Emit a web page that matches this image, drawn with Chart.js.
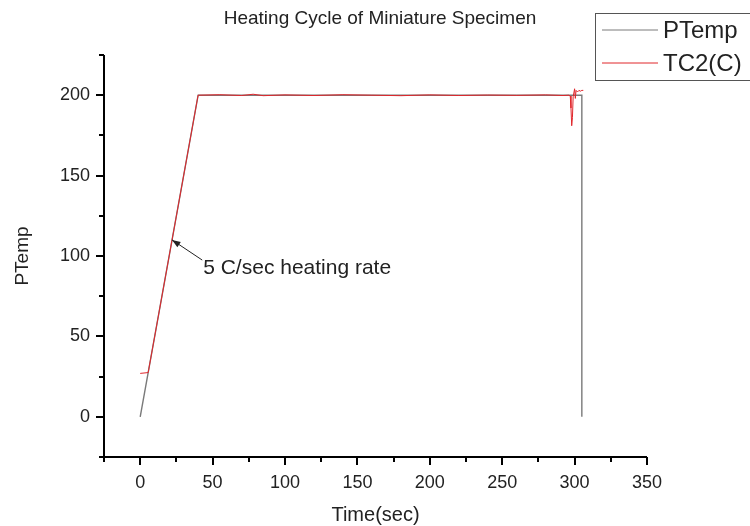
<!DOCTYPE html>
<html>
<head>
<meta charset="utf-8">
<script src="https://cdn.jsdelivr.net/npm/chart.js@4"></script>
<style>
  html, body { margin: 0; padding: 0; background: #fff; }
  #wrap { width: 750px; height: 526px; }
</style>
</head>
<body>
<div id="wrap"><canvas id="chart" width="750" height="526"></canvas></div>
<script>
// PTemp: programmed temperature set-point
const ptempTime = [0, 40, 305, 305];
const ptempVal  = [0, 200, 200, 0];

// TC2(C): measured thermocouple reading
const tc2Time = [0, 5.5, 20, 40, 55, 70, 78, 85, 100, 120, 140, 160, 180, 200, 220, 240, 260, 280, 292, 296, 297, 297.5, 298, 298.5, 299, 300, 300.5, 301, 302, 303, 304, 305, 306];
const tc2Val  = [27, 27.5, 100, 200, 200.3, 199.8, 200.6, 199.7, 200.2, 199.8, 200.3, 200, 199.7, 200.2, 199.8, 200.1, 199.9, 200.2, 199.8, 200, 199.5, 192, 181, 186, 199, 204, 198, 203, 202, 203, 202.5, 203, 203];

const xTicks = [-25, 0, 25, 50, 75, 100, 125, 150, 175, 200, 225, 250, 275, 300, 325, 350];
const yTicks = [-25, 0, 25, 50, 75, 100, 125, 150, 175, 200, 225];

const seriesNames = ['PTemp', 'TC2(C)'];
const seriesColors = ['#7a7a7a', '#e0262b'];

// arrow note on the ramp: head at a point on the line, text to the lower right
const noteText = '5 C/sec heating rate';
const noteHead = { x: 22, y: 110 };
const noteText0 = { x: 43.5, y: 92.5 };

const FONT = '"Liberation Sans", Arial, sans-serif';

function toPoints(xs, ys) { return xs.map((x, i) => ({ x, y: ys[i] })); }

// Origin-style axes: thick left/bottom lines with outward major + minor ticks,
// plus the title, axis titles, legend box and arrow note
const decorations = {
  id: 'decorations',
  afterDraw(chart) {
    const ctx = chart.ctx;
    const { left, right, top, bottom } = chart.chartArea;
    const xs = chart.scales.x, ys = chart.scales.y;
    ctx.save();
    ctx.strokeStyle = '#000';
    ctx.lineWidth = 2;
    ctx.beginPath();
    ctx.moveTo(left, top); ctx.lineTo(left, bottom); ctx.lineTo(right, bottom);
    ctx.stroke();

    xTicks.forEach(v => {
      const px = Math.round(xs.getPixelForValue(v));
      const len = v % 50 === 0 ? 8 : 5;
      ctx.beginPath(); ctx.moveTo(px, bottom); ctx.lineTo(px, bottom + len); ctx.stroke();
    });
    yTicks.forEach(v => {
      const py = Math.round(ys.getPixelForValue(v));
      const len = v % 50 === 0 ? 8 : 5;
      ctx.beginPath(); ctx.moveTo(left, py); ctx.lineTo(left - len, py); ctx.stroke();
    });

    // chart title
    ctx.fillStyle = '#222';
    ctx.font = '19px ' + FONT;
    ctx.textAlign = 'center';
    ctx.textBaseline = 'middle';
    ctx.fillText('Heating Cycle of Miniature Specimen', 380, 19);

    // axis titles
    ctx.font = '20px ' + FONT;
    ctx.fillText('Time(sec)', (left + right) / 2, 515);
    ctx.save();
    ctx.font = '19px ' + FONT;
    ctx.translate(23, (top + bottom) / 2);
    ctx.rotate(-Math.PI / 2);
    ctx.fillText('PTemp', 0, 0);
    ctx.restore();

    // legend box, running off the right edge
    ctx.strokeStyle = '#555';
    ctx.lineWidth = 1;
    ctx.strokeRect(595.5, 13.5, 170, 67);
    ctx.font = '24px ' + FONT;
    ctx.textAlign = 'left';
    seriesNames.forEach((name, i) => {
      const cy = 30 + i * 33;
      ctx.strokeStyle = seriesColors[i];
      ctx.lineWidth = 1;
      ctx.beginPath(); ctx.moveTo(602, cy); ctx.lineTo(658, cy); ctx.stroke();
      ctx.fillStyle = '#222';
      ctx.fillText(name, 663, cy + 1);
    });

    // arrow note
    const hx = xs.getPixelForValue(noteHead.x), hy = ys.getPixelForValue(noteHead.y);
    const tx = xs.getPixelForValue(noteText0.x), ty = ys.getPixelForValue(noteText0.y);
    const sx = tx - 1, sy = ty - 8;
    ctx.strokeStyle = '#222';
    ctx.fillStyle = '#222';
    ctx.lineWidth = 1;
    ctx.beginPath(); ctx.moveTo(sx, sy); ctx.lineTo(hx, hy); ctx.stroke();
    const ang = Math.atan2(hy - sy, hx - sx);
    ctx.beginPath();
    ctx.moveTo(hx, hy);
    ctx.lineTo(hx - 9 * Math.cos(ang - 0.35), hy - 9 * Math.sin(ang - 0.35));
    ctx.lineTo(hx - 9 * Math.cos(ang + 0.35), hy - 9 * Math.sin(ang + 0.35));
    ctx.closePath(); ctx.fill();
    ctx.font = '21px ' + FONT;
    ctx.textAlign = 'left';
    ctx.fillText(noteText, tx, ty);
    ctx.restore();
  }
};

new Chart(document.getElementById('chart'), {
  type: 'line',
  data: {
    datasets: [
      {
        label: seriesNames[0],
        data: toPoints(ptempTime, ptempVal),
        borderColor: seriesColors[0],
        borderWidth: 1.4,
        pointRadius: 0,
        tension: 0,
        order: 2
      },
      {
        label: seriesNames[1],
        data: toPoints(tc2Time, tc2Val),
        borderColor: seriesColors[1],
        borderWidth: 1,
        pointRadius: 0,
        tension: 0,
        order: 1
      }
    ]
  },
  options: {
    responsive: false,
    animation: false,
    layout: { padding: { top: 55, right: 103, left: 0, bottom: 0 } },
    plugins: { legend: { display: false }, tooltip: { enabled: false } },
    scales: {
      x: {
        type: 'linear',
        min: -25, max: 350,
        grid: { display: false, drawTicks: false },
        border: { display: false },
        afterBuildTicks: s => { s.ticks = xTicks.map(v => ({ value: v })); },
        afterFit: s => { s.height = 69; },
        ticks: {
          autoSkip: false, maxRotation: 0, padding: 15,
          color: '#222', font: { family: FONT, size: 18 },
          callback: v => (v % 50 === 0 ? v : '')
        }
      },
      y: {
        min: -25, max: 225,
        grid: { display: false, drawTicks: false },
        border: { display: false },
        afterBuildTicks: s => { s.ticks = yTicks.map(v => ({ value: v })); },
        afterFit: s => { s.width = 104; },
        ticks: {
          autoSkip: false, padding: 14,
          color: '#222', font: { family: FONT, size: 18 },
          callback: v => (v % 50 === 0 && v >= 0 ? v : '')
        }
      }
    }
  },
  plugins: [decorations]
});
</script>
</body>
</html>
